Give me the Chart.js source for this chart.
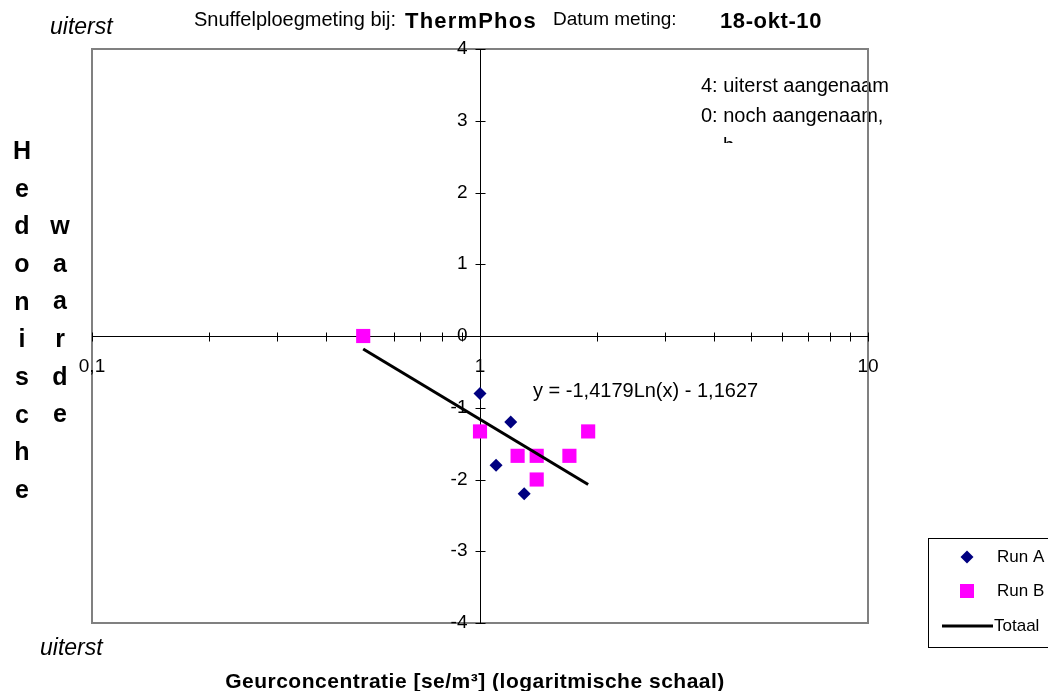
<!DOCTYPE html>
<html>
<head>
<meta charset="utf-8">
<script src="https://cdn.jsdelivr.net/npm/chart.js@4.4.0/dist/chart.umd.min.js"></script>
<style>
  html, body { margin: 0; padding: 0; background: #fff; }
  #wrap { width: 1048px; height: 691px; position: relative; }
</style>
</head>
<body>
<div id="wrap"><canvas id="chart"></canvas></div>
<script>
// data
const runAX = [1.0, 1.2, 1.1, 1.3];
const runAY = [-0.8, -1.2, -1.8, -2.2];
const runBX = [0.5, 1.0, 1.25, 1.4, 1.4, 1.7, 1.9];
const runBY = [0, -1.33, -1.67, -1.67, -2.0, -1.67, -1.33];
const trendX = [0.5, 1.9];
const trendY = [-0.18, -2.07];

// axis ticks
const xTickValues = [0.1, 0.2, 0.3, 0.4, 0.5, 0.6, 0.7, 0.8, 0.9, 1, 2, 3, 4, 5, 6, 7, 8, 9, 10];
const xLabelValues = [0.1, 1, 10];
const xLabelTexts = ['0,1', '1', '10'];
const yTickValues = [4, 3, 2, 1, 0, -1, -2, -3, -4];
const yLabelTexts = ['4', '3', '2', '1', '0', '-1', '-2', '-3', '-4'];

const seriesNames = ['Run A', 'Run B', 'Totaal'];
const equationText = 'y = -1,4179Ln(x) - 1,1627';
const sideLeft = ['H', 'e', 'd', 'o', 'n', 'i', 's', 'c', 'h', 'e'];
const sideRight = ['w', 'a', 'a', 'r', 'd', 'e'];

const FONT = '"Liberation Sans", Arial, sans-serif';
const NAVY = '#000080';
const PINK = '#FF00FF';

const toPoints = (xs, ys) => xs.map((v, i) => ({ x: v, y: ys[i] }));

function diamond(ctx, x, y, r, color) {
  ctx.fillStyle = color;
  ctx.beginPath();
  ctx.moveTo(x, y - r);
  ctx.lineTo(x + r, y);
  ctx.lineTo(x, y + r);
  ctx.lineTo(x - r, y);
  ctx.closePath();
  ctx.fill();
}

function text(ctx, s, x, y, font, align, spacing) {
  ctx.font = font;
  ctx.textAlign = align || 'left';
  ctx.textBaseline = 'middle';
  ctx.fillStyle = '#000';
  ctx.letterSpacing = (spacing || 0) + 'px';
  ctx.fillText(s, x, y);
  ctx.letterSpacing = '0px';
}

const axesPlugin = {
  id: 'axesPlugin',
  beforeDatasetsDraw(chart) {
    const { ctx, chartArea: a, scales: { x, y } } = chart;
    ctx.save();

    // note in upper right, runs past the plot border
    text(ctx, '4: uiterst aangenaam', 701, 86, '20px ' + FONT);
    text(ctx, '0: noch aangenaam,', 701, 116, '20px ' + FONT);
    ctx.save();
    ctx.beginPath();
    ctx.rect(690, 130, 60, 13);
    ctx.clip();
    text(ctx, 'b', 723, 146, '20px ' + FONT);
    ctx.restore();

    // plot border
    ctx.strokeStyle = '#808080';
    ctx.lineWidth = 2;
    ctx.strokeRect(a.left, a.top, a.width, a.height);

    const y0 = Math.round(y.getPixelForValue(0)) + 0.5;
    const x1 = Math.round(x.getPixelForValue(1)) + 0.5;

    ctx.strokeStyle = '#000';
    ctx.lineWidth = 1;
    ctx.beginPath();
    ctx.moveTo(a.left, y0);
    ctx.lineTo(a.right, y0);
    ctx.moveTo(x1, a.top);
    ctx.lineTo(x1, a.bottom);
    xTickValues.forEach(v => {
      const px = Math.round(x.getPixelForValue(v)) + 0.5;
      ctx.moveTo(px, y0 - 4);
      ctx.lineTo(px, y0 + 5);
    });
    yTickValues.forEach(v => {
      const py = Math.round(y.getPixelForValue(v)) + 0.5;
      ctx.moveTo(x1 - 5, py);
      ctx.lineTo(x1 + 5, py);
    });
    ctx.stroke();

    yTickValues.forEach((v, i) => {
      text(ctx, yLabelTexts[i], x1 - 13, y.getPixelForValue(v), '19px ' + FONT, 'right');
    });
    xLabelValues.forEach((v, i) => {
      text(ctx, xLabelTexts[i], x.getPixelForValue(v), y0 + 30, '19px ' + FONT, 'center');
    });
    ctx.restore();
  },
  afterDraw(chart) {
    const ctx = chart.ctx;
    ctx.save();

    text(ctx, equationText, 533, 391, '20px ' + FONT);

    // header
    text(ctx, 'uiterst', 50, 28, 'italic 23px ' + FONT);
    text(ctx, 'Snuffelploegmeting bij:', 194, 20, '20px ' + FONT);
    text(ctx, 'ThermPhos', 405, 22, 'bold 22px ' + FONT, 'left', 1.2);
    text(ctx, 'Datum meting:', 553, 20, '19px ' + FONT);
    text(ctx, '18-okt-10', 720, 22, 'bold 22px ' + FONT, 'left', 0.6);

    // vertical y title
    sideLeft.forEach((c, i) => text(ctx, c, 22, 152 + i * 37.7, 'bold 25px ' + FONT, 'center'));
    sideRight.forEach((c, i) => text(ctx, c, 60, 227 + i * 37.7, 'bold 25px ' + FONT, 'center'));

    // bottom
    text(ctx, 'uiterst', 40, 649, 'italic 23px ' + FONT);
    text(ctx, 'Geurconcentratie [se/m³] (logaritmische schaal)', 475, 682, 'bold 21px ' + FONT, 'center', 0.5);

    // legend
    ctx.strokeStyle = '#000';
    ctx.lineWidth = 1;
    ctx.strokeRect(928.5, 538.5, 140, 109);
    diamond(ctx, 967, 557, 6.5, NAVY);
    ctx.fillStyle = PINK;
    ctx.fillRect(960, 584, 14, 14);
    ctx.strokeStyle = '#000';
    ctx.lineWidth = 3;
    ctx.beginPath();
    ctx.moveTo(942, 626);
    ctx.lineTo(993, 626);
    ctx.stroke();
    text(ctx, seriesNames[0], 997, 557, '17px ' + FONT);
    text(ctx, seriesNames[1], 997, 591, '17px ' + FONT);
    text(ctx, seriesNames[2], 994, 626, '17px ' + FONT);

    ctx.restore();
  }
};

new Chart(document.getElementById('chart'), {
  type: 'scatter',
  data: {
    datasets: [
      {
        label: seriesNames[0],
        data: toPoints(runAX, runAY),
        pointStyle: 'rectRot',
        pointRadius: 6.5,
        pointBorderWidth: 0,
        backgroundColor: NAVY,
        borderColor: NAVY,
        order: 2
      },
      {
        label: seriesNames[1],
        data: toPoints(runBX, runBY),
        pointStyle: 'rect',
        pointRadius: 10,
        pointBorderWidth: 0,
        backgroundColor: PINK,
        borderColor: PINK,
        order: 1
      },
      {
        label: seriesNames[2],
        type: 'line',
        data: toPoints(trendX, trendY),
        showLine: true,
        pointRadius: 0,
        borderColor: '#000',
        borderWidth: 3,
        fill: false,
        order: 0
      }
    ]
  },
  options: {
    responsive: true,
    maintainAspectRatio: false,
    animation: false,
    layout: { padding: { left: 92, top: 49, right: 180, bottom: 68 } },
    plugins: {
      legend: { display: false },
      tooltip: { enabled: false }
    },
    scales: {
      x: { type: 'logarithmic', min: 0.1, max: 10, display: false },
      y: { type: 'linear', min: -4, max: 4, display: false }
    },
    clip: false
  },
  plugins: [axesPlugin]
});
</script>
</body>
</html>
